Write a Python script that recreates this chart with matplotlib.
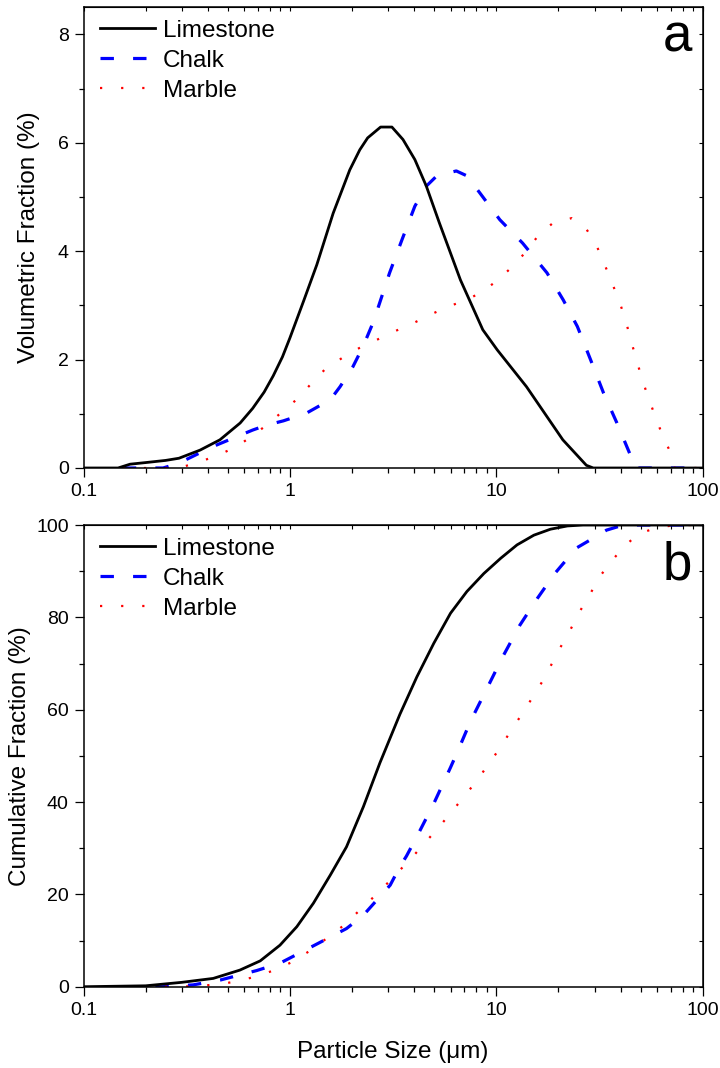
# %%
import numpy as np
import matplotlib
matplotlib.use("Agg")
import matplotlib.pyplot as plt
from matplotlib.ticker import MultipleLocator, LogLocator, FuncFormatter, NullFormatter

plt.rcParams["font.family"] = ["Liberation Sans", "DejaVu Sans"]

# %%
# (a) volumetric fraction (%) vs particle size (um)
lime_x = [0.1, 0.147, 0.168, 0.2, 0.25, 0.29, 0.367, 0.458, 0.574, 0.66, 0.75, 0.83, 0.92, 1.0,
          1.17, 1.35, 1.62, 1.95, 2.18, 2.38, 2.75, 3.12, 3.53, 4.03, 4.58, 5.3, 6.7, 8.6, 10.1,
          14.0, 21.0, 27.3, 29.5, 100]
lime_y = [0, 0, 0.07, 0.10, 0.14, 0.18, 0.33, 0.52, 0.83, 1.1, 1.4, 1.7, 2.05, 2.4,
          3.1, 3.75, 4.7, 5.5, 5.87, 6.09, 6.29, 6.29, 6.06, 5.69, 5.2, 4.52, 3.47, 2.55, 2.18,
          1.5, 0.52, 0.05, 0, 0]

chalk_x = [0.155, 0.243, 0.29, 0.42, 0.66, 0.77, 0.93, 1.2, 1.57, 1.75, 2.02, 2.26, 2.54, 3.04,
           3.49, 4.03, 4.58, 5.15, 6.4, 7.2, 8.3, 10.4, 13.4, 17.6, 21.1, 24.7, 28.6, 33.1, 38.4,
           44.6, 47, 100]
chalk_y = [0, 0, 0.09, 0.39, 0.70, 0.79, 0.87, 1.01, 1.26, 1.5, 1.87, 2.24, 2.7, 3.6,
           4.21, 4.83, 5.2, 5.39, 5.48, 5.39, 5.08, 4.58, 4.15, 3.6, 3.1, 2.61, 2.0, 1.38, 0.83,
           0.24, 0, 0]

marble_x = [0.155, 0.29, 0.37, 0.45, 0.55, 0.65, 0.77, 0.92, 1.09, 1.25, 1.47, 1.79, 2.16, 2.62,
            3.21, 3.95, 4.8, 5.85, 7.2, 8.6, 10.2, 12.0, 14.0, 15.9, 18.8, 23.2, 27.4, 30.7,
            33.5, 36.4, 39.5, 42.5, 44.8, 47.7, 50.6, 54.4, 58.5, 63.3, 69.5, 73, 100]
marble_y = [0, 0, 0.12, 0.24, 0.39, 0.58, 0.79, 1.04, 1.28, 1.53, 1.81, 2.03, 2.21, 2.36,
            2.52, 2.67, 2.83, 2.98, 3.1, 3.26, 3.47, 3.72, 4.0, 4.28, 4.52, 4.61, 4.4, 4.09,
            3.75, 3.41, 3.07, 2.7, 2.36, 2.01, 1.66, 1.31, 0.98, 0.64, 0.3, 0, 0]

# (b) cumulative fraction (%)
lime_cx = [0.1, 0.2, 0.299, 0.425, 0.572, 0.718, 0.895, 1.08, 1.30, 1.57, 1.88, 2.27, 2.73,
           3.41, 4.12, 4.98, 6.0, 7.2, 8.7, 10.5, 12.6, 15.2, 18.3, 22.1, 26.3, 100]
lime_cy = [0, 0.2, 0.95, 1.8, 3.6, 5.6, 9.0, 13.0, 18.1, 24.2, 30.3, 39.0, 48.5,
           59.0, 67.1, 74.4, 80.9, 85.6, 89.5, 92.8, 95.7, 97.8, 99.1, 99.8, 100, 100]

chalk_cx = [0.155, 0.243, 0.34, 0.46, 0.69, 0.895, 1.23, 1.88, 2.27, 3.06, 3.41, 3.67, 4.12,
            4.98, 6.0, 6.5, 7.5, 9.1, 10.75, 13.0, 15.8, 19.2, 24.4, 27.6, 34.2, 39.9, 46.2, 100]
chalk_cy = [0, 0, 0.4, 1.45, 3.5, 5.1, 8.3, 12.6, 15.5, 22.0, 26.0, 28.3, 32.5,
            39.7, 47.5, 51.0, 57.5, 65.0, 71.5, 78.3, 84.1, 89.5, 95.0, 96.4, 98.9, 99.8, 100, 100]

marble_cx = [0.155, 0.29, 0.372, 0.467, 0.572, 0.708, 0.867, 1.05, 1.25, 1.51, 1.80, 2.10,
             2.46, 2.88, 3.35, 3.89, 4.49, 5.21, 6.03, 6.92, 7.97, 9.07, 10.3, 11.6, 13.1, 14.9,
             16.7, 18.5, 20.5, 22.9, 25.3, 28.3, 31.3, 35.6, 40.9, 48.4, 60.4, 75, 100]
marble_cy = [0, 0, 0.2, 0.6, 1.3, 2.4, 3.8, 5.6, 7.8, 10.5, 13.1, 15.9,
             18.8, 21.8, 24.9, 27.9, 31.1, 34.3, 37.7, 41.0, 44.4, 47.9, 51.4, 55.0, 58.6, 62.5,
             66.1, 69.8, 73.6, 77.4, 81.2, 84.8, 88.5, 91.8, 95.0, 98.0, 99.5, 100, 100]

labels = ["Limestone", "Chalk", "Marble"]

# %%
fig = plt.figure(figsize=(7.2, 10.68), dpi=100)
ax1 = fig.add_axes([0.116, 0.5618, 0.860, 0.4314])
ax2 = fig.add_axes([0.116, 0.0761, 0.860, 0.4323])


def draw(ax, xs, ys):
    ax.plot(xs[0], ys[0], color="black", lw=2.0, label=labels[0], zorder=3)
    ax.plot(xs[1], ys[1], color="blue", lw=2.3, dashes=(4.2, 6.0), label=labels[1], zorder=2)
    ax.plot(xs[2], ys[2], color="red", lw=1.6, dashes=(1.0, 8.5), label=labels[2], zorder=2)


def style(ax, ymax, major, minor):
    ax.set_xscale("log")
    ax.set_xlim(0.1, 100)
    ax.set_ylim(0, ymax)
    ax.xaxis.set_major_locator(LogLocator(base=10, numticks=10))
    ax.xaxis.set_minor_locator(LogLocator(base=10, subs=np.arange(2, 10), numticks=10))
    ax.xaxis.set_major_formatter(FuncFormatter(lambda v, p: "%g" % v))
    ax.xaxis.set_minor_formatter(NullFormatter())
    ax.yaxis.set_major_locator(MultipleLocator(major))
    ax.yaxis.set_minor_locator(MultipleLocator(minor))
    ax.tick_params(which="major", direction="out", length=6.7, width=0.9, labelsize=14, pad=4)
    ax.tick_params(which="minor", direction="out", length=3.6, width=0.9)
    for s in ax.spines.values():
        s.set_linewidth(1.1)
    # inward ticks on top and right
    top = ax.secondary_xaxis("top")
    top.xaxis.set_major_locator(LogLocator(base=10, numticks=10))
    top.xaxis.set_minor_locator(LogLocator(base=10, subs=np.arange(2, 10), numticks=10))
    top.tick_params(which="both", direction="in", length=3, width=0.8, labeltop=False)
    right = ax.secondary_yaxis("right")
    right.yaxis.set_major_locator(MultipleLocator(major))
    right.yaxis.set_minor_locator(MultipleLocator(minor))
    right.tick_params(which="both", direction="in", length=3, width=0.8, labelright=False)
    ax.legend(loc="upper left", bbox_to_anchor=(0.026, 0.973), frameon=False, fontsize=17.5,
              handlelength=2.26, handletextpad=0.33, labelspacing=0.33, borderpad=0,
              borderaxespad=0)


draw(ax1, [lime_x, chalk_x, marble_x], [lime_y, chalk_y, marble_y])
style(ax1, 8.5, 2, 1)
ax1.set_ylabel("Volumetric Fraction (%)", fontsize=17.5)
ax1.yaxis.set_label_coords(-0.071, 0.5)
ax1.text(0.983, 0.903, "a", transform=ax1.transAxes, fontsize=38, ha="right", va="baseline")

draw(ax2, [lime_cx, chalk_cx, marble_cx], [lime_cy, chalk_cy, marble_cy])
style(ax2, 100, 20, 10)
ax2.set_ylabel("Cumulative Fraction (%)", fontsize=17.5)
ax2.yaxis.set_label_coords(-0.085, 0.5)
ax2.set_xlabel("Particle Size (\u03bcm)", fontsize=17.5)
ax2.xaxis.set_label_coords(0.5, -0.117)
ax2.text(0.983, 0.881, "b", transform=ax2.transAxes, fontsize=38, ha="right", va="baseline")

fig.savefig("out.png", dpi=100)
